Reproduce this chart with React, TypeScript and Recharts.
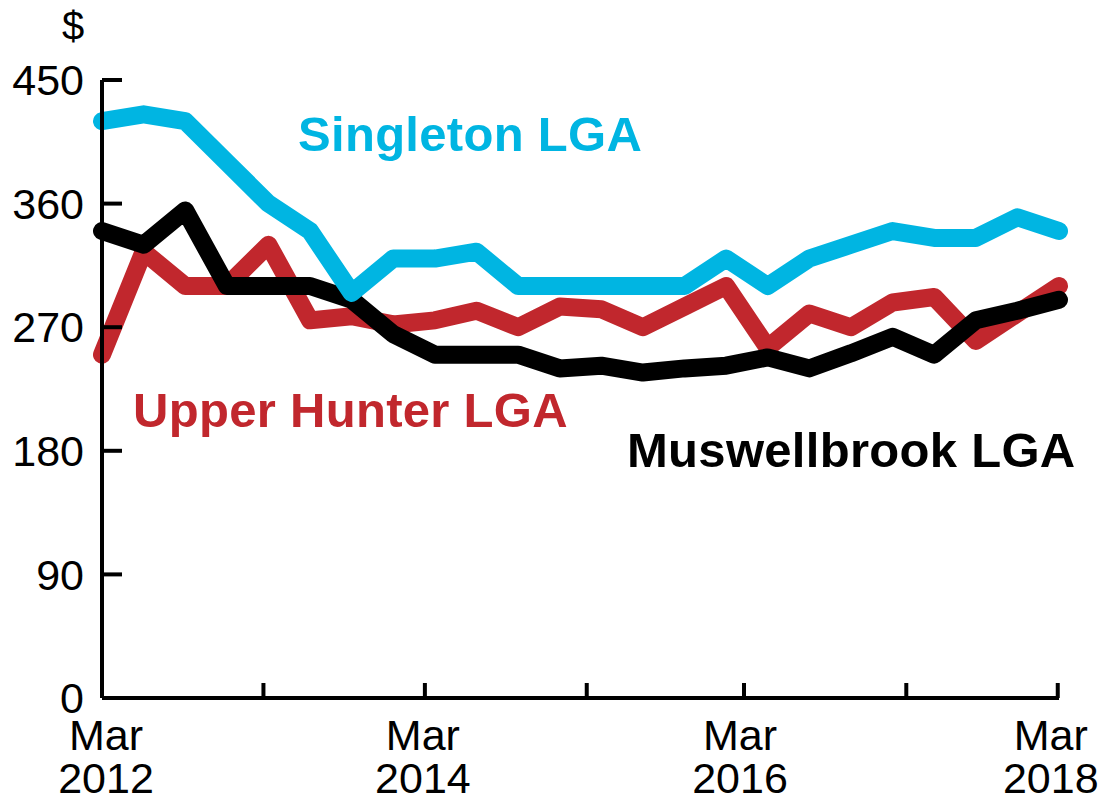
import React from 'react';
import { LineChart, Line, XAxis, YAxis } from 'recharts';

const quarters = [
  'Mar 2012', 'Jun 2012', 'Sep 2012', 'Dec 2012',
  'Mar 2013', 'Jun 2013', 'Sep 2013', 'Dec 2013',
  'Mar 2014', 'Jun 2014', 'Sep 2014', 'Dec 2014',
  'Mar 2015', 'Jun 2015', 'Sep 2015', 'Dec 2015',
  'Mar 2016', 'Jun 2016', 'Sep 2016', 'Dec 2016',
  'Mar 2017', 'Jun 2017', 'Sep 2017', 'Dec 2017',
];
const singleton = [420, 425, 420, 390, 360, 340, 295, 320, 320, 325, 300, 300, 300, 300, 300, 320, 300, 320, 330, 340, 335, 335, 350, 340];
const upperHunter = [250, 325, 300, 300, 330, 275, 278, 272, 275, 282, 270, 285, 283, 270, 285, 300, 255, 280, 270, 288, 292, 260, 280, 300];
const muswellbrook = [340, 330, 355, 300, 300, 300, 290, 265, 250, 250, 250, 240, 242, 237, 240, 242, 248, 240, 251, 263, 250, 275, 282, 290];

const yTicks = [0, 90, 180, 270, 360, 450];
const xTickPositions = [0, 3.88, 7.76, 11.65, 15.43, 19.33, 22.97];
const xTickTop = ['Mar', '', 'Mar', '', 'Mar', '', 'Mar'];
const xTickBottom = ['2012', '', '2014', '', '2016', '', '2018'];
const xLabelNudge = [4, 0, -2, 0, -4, 0, -7];

const BLUE = '#00B5E2';
const RED = '#C1272D';
const BLACK = '#000000';
const FONT = '"Liberation Sans", Arial, Helvetica, sans-serif';

const data = quarters.map((label, i) => ({
  q: i,
  label,
  singleton: singleton[i],
  upperHunter: upperHunter[i],
  muswellbrook: muswellbrook[i],
}));

const XTick = (props: any) => {
  const { x, y, payload } = props;
  const idx = xTickPositions.indexOf(payload.value);
  const top = idx >= 0 ? xTickTop[idx] : '';
  const bottom = idx >= 0 ? xTickBottom[idx] : '';
  if (!top && !bottom) return null;
  const cx = x + (idx >= 0 ? xLabelNudge[idx] : 0);
  return (
    <text x={cx} y={y} textAnchor="middle" fill="#000" fontSize={43} fontFamily={FONT}>
      <tspan x={cx} y={y + 52}>{top}</tspan>
      <tspan x={cx} y={y + 95}>{bottom}</tspan>
    </text>
  );
};

const lineProps = {
  type: 'linear' as const,
  strokeWidth: 18,
  strokeLinecap: 'round' as const,
  strokeLinejoin: 'round' as const,
  dot: false,
  activeDot: false,
  isAnimationActive: false,
};

export default function App() {
  return (
    <div style={{ position: 'absolute', left: 0, top: 0, width: 1111, height: 800, background: '#fff' }}>
      <LineChart
        width={1111}
        height={800}
        data={data}
        margin={{ top: 80, right: 52, bottom: 0, left: 0 }}
      >
        <XAxis
          dataKey="q"
          type="number"
          domain={[0, 23]}
          ticks={xTickPositions}
          interval={0}
          height={102}
          tickSize={-15}
          tickMargin={15}
          axisLine={{ stroke: '#000', strokeWidth: 4 }}
          tickLine={{ stroke: '#000', strokeWidth: 4 }}
          tick={<XTick />}
        />
        <YAxis
          type="number"
          domain={[0, 450]}
          ticks={yTicks}
          interval={0}
          width={102}
          tickSize={-20}
          tickMargin={38}
          axisLine={{ stroke: '#000', strokeWidth: 4 }}
          tickLine={{ stroke: '#000', strokeWidth: 4 }}
          tick={{ fill: '#000', fontSize: 43, fontFamily: FONT }}
        />
        <Line {...lineProps} dataKey="upperHunter" stroke={RED} />
        <Line {...lineProps} dataKey="muswellbrook" stroke={BLACK} />
        <Line {...lineProps} dataKey="singleton" stroke={BLUE} />
        <text x={73} y={40} textAnchor="middle" fill="#000" fontSize={40} fontFamily={FONT}>$</text>
        <text x={298} y={151} fill={BLUE} fontSize={49} fontWeight="bold" fontFamily={FONT} letterSpacing={0.3}>Singleton LGA</text>
        <text x={133} y={427} fill={RED} fontSize={49} fontWeight="bold" fontFamily={FONT} letterSpacing={0.3}>Upper Hunter LGA</text>
        <text x={627} y={467} fill={BLACK} fontSize={49} fontWeight="bold" fontFamily={FONT} letterSpacing={0.3}>Muswellbrook LGA</text>
      </LineChart>
    </div>
  );
}
